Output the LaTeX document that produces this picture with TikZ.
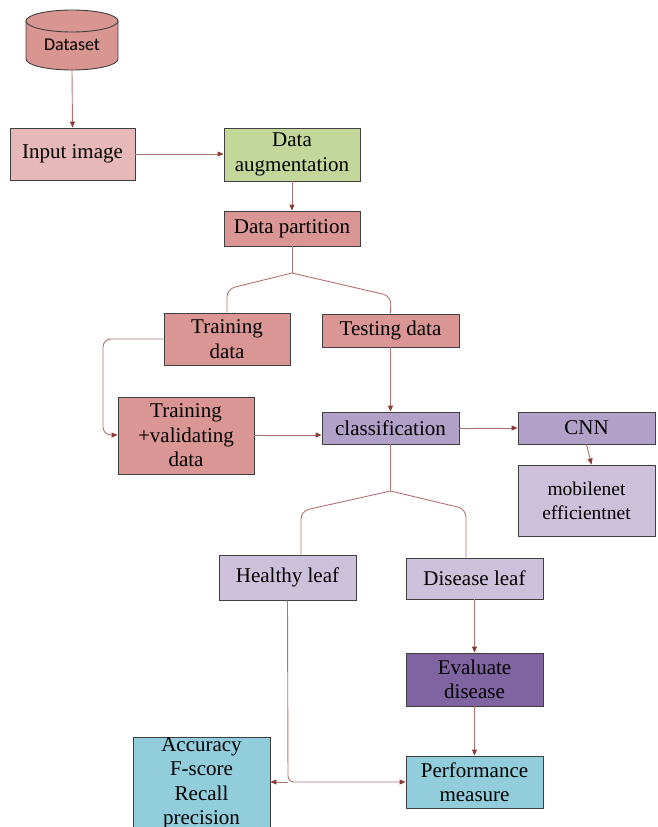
\documentclass[tikz,border=0pt]{standalone}
\usepackage{fontspec}
\setmainfont{Liberation Serif}
\newfontfamily\dsfont{Carlito}
\usetikzlibrary{arrows.meta}
\definecolor{cDataset}{HTML}{D9958F}
\definecolor{cInput}{HTML}{E6B8B7}
\definecolor{cAug}{HTML}{C4D79B}
\definecolor{cRed}{HTML}{DA9694}
\definecolor{cPurp}{HTML}{B1A0C7}
\definecolor{cLav}{HTML}{CCC0DA}
\definecolor{cDark}{HTML}{8064A2}
\definecolor{cCyan}{HTML}{92CDDC}
\definecolor{cBorder}{HTML}{404040}
\definecolor{cLine}{HTML}{B07370}
\definecolor{cTip}{HTML}{8B3A3A}
\tikzset{
  box/.style={draw=cBorder, line width=0.9pt, align=center, inner sep=0pt,
    font=\fontsize{21}{24.5}\selectfont},
  conn/.style={draw=cLine, line width=0.9pt},
  arr/.style={conn, -{Triangle[length=6pt,width=5pt,color=cTip]}},
}
\begin{document}
\begin{tikzpicture}[x=1pt,y=-1pt]
\useasboundingbox (0,0) rectangle (658,827);
% Dataset cylinder
\draw[cBorder, line width=0.9pt, fill=cDataset] (26,21) -- (26,59) arc[start angle=180,end angle=0,x radius=46,y radius=11] -- (118,21) -- cycle;
\draw[cBorder, line width=0.9pt, fill=cDataset] (72,21) ellipse[x radius=46,y radius=11];
\node[minimum width=92pt, minimum height=60pt, inner sep=0pt] (dataset) at (72,40) {};
\node[font=\dsfont\fontsize{18}{20}\selectfont] (dslabel) at (72,45) {Dataset};

\node[box, fill=cInput, minimum width=125pt, minimum height=52pt] (input) at (72.5,154) {Input image};
\node[box, fill=cAug, minimum width=136pt, minimum height=53pt] (aug) at (292,154.5) {Data\\augmentation};
\node[box, fill=cRed, minimum width=136pt, minimum height=35pt] (part) at (292,228.5) {Data partition};
\node[box, fill=cRed, minimum width=126pt, minimum height=52pt] (train) at (227,339) {Training\\data};
\node[box, fill=cRed, minimum width=137pt, minimum height=33pt] (test) at (390.5,330.5) {Testing data};
\node[box, fill=cRed, minimum width=136pt, minimum height=77pt] (tv) at (186,435.5) {Training\\+validating\\data};
\node[box, fill=cPurp, minimum width=137pt, minimum height=32pt] (cls) at (390.5,428) {classification};
\node[box, fill=cPurp, minimum width=137pt, minimum height=32pt] (cnn) at (586.5,428) {CNN};
\node[box, fill=cLav, minimum width=137pt, minimum height=71pt, font=\fontsize{19.5}{24}\selectfont] (mob) at (586.5,500.5) {mobilenet\\efficientnet};
\node[box, fill=cLav, minimum width=137pt, minimum height=45pt] (healthy) at (287.5,577.5) {Healthy leaf};
\node[box, fill=cLav, minimum width=137pt, minimum height=41pt] (disease) at (474.5,578.5) {Disease leaf};
\node[box, fill=cDark, minimum width=137pt, minimum height=53pt] (eval) at (474.5,679.5) {Evaluate\\disease};
\node[box, fill=cCyan, minimum width=137pt, minimum height=52pt] (perf) at (474.5,782) {Performance\\measure};
\node[box, fill=cCyan, minimum width=137pt, minimum height=93pt] (acc) at (201.5,783.5) {Accuracy\\F-score\\Recall\\precision};

% connectors
\draw[arr] (dataset.south) -- (input.north);
\draw[arr] (input.east) -- (input.east -| aug.west);
\draw[arr] (aug.south) -- (part.north);
\coordinate (b1) at (292,273);
\draw[conn] (part.south) -- (b1);
\draw[conn, rounded corners=8pt] (b1) -- (227,289) -- (train.north);
\draw[conn, rounded corners=8pt] (b1) -- (391,296) -- (test.north);
\draw[arr, rounded corners=8pt] (train.west) -- (103,339) -- (103,435) -- (tv.west |- 0,435);
\draw[arr] (test.south) -- (cls.north);
\draw[arr] (tv.east |- 0,435) -- (cls.west |- 0,435);
\draw[arr] (cls.east) -- (cnn.west);
\draw[arr] (cnn.south) -- ([xshift=5pt]mob.north);
\coordinate (b2) at (390.5,491);
\draw[conn] (cls.south) -- (b2);
\draw[conn, rounded corners=8pt] (b2) -- (301,511) -- (healthy.north -| 301,0);
\draw[conn, rounded corners=8pt] (b2) -- (466,509) -- (disease.north -| 466,0);
\draw[arr] (disease.south) -- (eval.north);
\draw[arr] (eval.south) -- (perf.north);
\coordinate (b3) at (288,782);
\draw[arr, rounded corners=6pt] (healthy.south) -- (b3) -- (perf.west);
\draw[arr] (b3) -- (acc.east |- b3);
\end{tikzpicture}
\end{document}
